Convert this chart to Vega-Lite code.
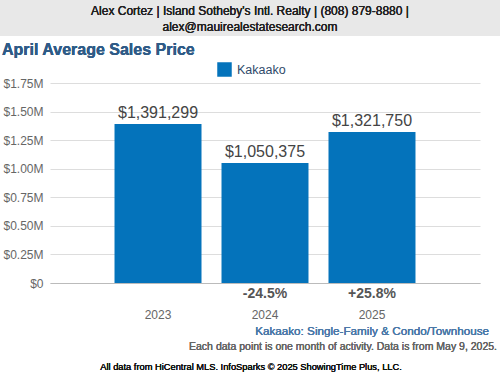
{
  "$schema": "https://vega.github.io/schema/vega-lite/v6.json",
  "autosize": {"type": "none"},
  "padding": {"left": 50, "top": 83, "right": 20, "bottom": 92},
  "width": 430,
  "height": 200,
  "background": "white",
  "config": {
    "font": "Liberation Sans",
    "view": {"stroke": null},
    "axisY": {
      "title": null,
      "labelColor": "#666",
      "labelFontSize": 12,
      "labelPadding": 7,
      "ticks": false,
      "domain": false,
      "gridColor": "#dddddd",
      "labelOverlap": false
    }
  },
  "data": {
    "values": [
      {"year": "2023", "price": 1391299, "change": "", "area": "Kakaako"},
      {"year": "2024", "price": 1050375, "change": "-24.5%", "area": "Kakaako"},
      {"year": "2025", "price": 1321750, "change": "+25.8%", "area": "Kakaako"}
    ]
  },
  "encoding": {
    "x": {
      "field": "year",
      "type": "nominal",
      "scale": {"paddingInner": 0.187, "paddingOuter": 0.603},
      "axis": {
        "title": null,
        "labelAngle": 0,
        "labelColor": "#666",
        "labelFontSize": 12,
        "labelPadding": 26,
        "ticks": false,
        "domainColor": "#bbb",
        "domainWidth": 1
      }
    },
    "y": {
      "field": "price",
      "type": "quantitative",
      "scale": {"domain": [0, 1750000]},
      "axis": {
        "values": [0, 250000, 500000, 750000, 1000000, 1250000, 1500000, 1750000],
        "labelExpr": "datum.value == 0 ? '$0' : '$' + format(datum.value / 1000000, '.2f') + 'M'"
      }
    }
  },
  "layer": [
    {
      "mark": {"type": "rect", "color": "#e8e8e8"},
      "encoding": {
        "x": {"value": -50},
        "x2": {"value": 450},
        "y": {"value": -83},
        "y2": {"value": -47}
      }
    },
    {
      "mark": {"type": "text", "text": "Alex Cortez | Island Sotheby's Intl. Realty | (808) 879-8880 |", "fontSize": 12, "fontWeight": "normal", "color": "#222", "align": "center", "baseline": "middle"},
      "encoding": {"x": {"value": 200}, "y": {"value": -72}}
    },
    {
      "mark": {"type": "text", "text": "alex@mauirealestatesearch.com", "fontSize": 12, "fontWeight": "normal", "color": "#222", "align": "center", "baseline": "middle"},
      "encoding": {"x": {"value": 200}, "y": {"value": -56}}
    },
    {
      "mark": {"type": "text", "text": "April Average Sales Price", "fontSize": 16, "fontWeight": "bold", "color": "#2f5b87", "align": "left", "baseline": "alphabetic"},
      "encoding": {"x": {"value": -48}, "y": {"value": -28}}
    },
    {
      "mark": {"type": "bar", "color": "#0473BB"},
      "encoding": {
        "color": {
          "field": "area",
          "type": "nominal",
          "scale": {"domain": ["Kakaako"], "range": ["#0473BB"]},
          "legend": {
            "title": null,
            "orient": "none",
            "legendX": 167,
            "legendY": -21,
            "symbolType": "square",
            "symbolSize": 210,
            "symbolStrokeWidth": 0,
            "labelFontSize": 12.5,
            "labelColor": "#2f4a6a",
            "labelOffset": 5
          }
        }
      }
    },
    {
      "mark": {"type": "text", "fontSize": 16, "color": "#444", "baseline": "bottom", "dy": -3},
      "encoding": {
        "text": {"field": "price", "type": "quantitative", "format": "$,.0f"}
      }
    },
    {
      "mark": {"type": "text", "fontSize": 14, "fontWeight": "bold", "color": "#555", "baseline": "middle", "dy": 11},
      "encoding": {
        "y": {"datum": 0, "type": "quantitative"},
        "text": {"field": "change"}
      }
    },
    {
      "mark": {"type": "text", "text": "Kakaako: Single-Family & Condo/Townhouse", "fontSize": 11.7, "color": "#4a78a8", "align": "right", "baseline": "middle"},
      "encoding": {"x": {"value": 439}, "y": {"value": 248}}
    },
    {
      "mark": {"type": "text", "text": "Each data point is one month of activity. Data is from May 9, 2025.", "fontSize": 10.5, "color": "#666", "align": "right", "baseline": "middle"},
      "encoding": {"x": {"value": 447}, "y": {"value": 264}}
    },
    {
      "mark": {"type": "text", "text": "All data from HiCentral MLS. InfoSparks © 2025 ShowingTime Plus, LLC.", "fontSize": 9.3, "color": "#111", "align": "center", "baseline": "middle"},
      "encoding": {"x": {"value": 201}, "y": {"value": 284}}
    }
  ]
}
